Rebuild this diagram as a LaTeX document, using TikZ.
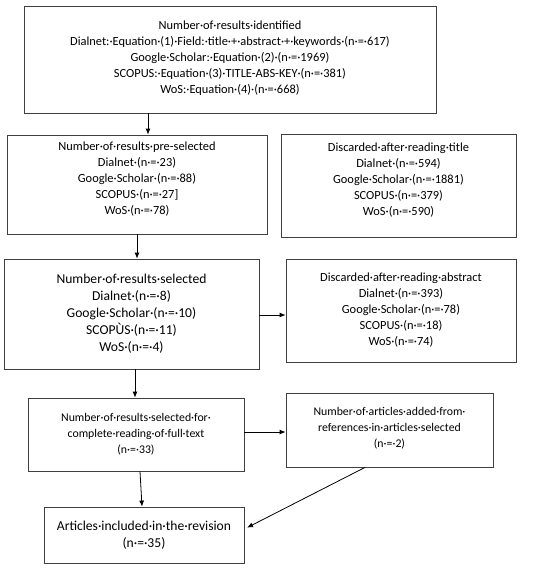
\documentclass[tikz,border=0pt]{standalone}
\usepackage{fontspec}
\setmainfont{Carlito}
\usetikzlibrary{arrows.meta}
\newcommand{\liftby}[1]{\rule[-#1pt]{0pt}{#1pt}}
\tikzset{
  box/.style={draw=black!75, line width=0.8pt, inner sep=0pt, align=center, anchor=center,
    font=\fontsize{12.4}{16}\selectfont},
  midbox/.style={box, font=\fontsize{11.8}{16}\selectfont},
  bigbox/.style={box, font=\fontsize{13.6}{17}\selectfont},
  arr/.style={draw=black, line width=0.8pt, -{Latex[length=6pt,width=5pt]}}
}
\begin{document}
\begin{tikzpicture}[x=1pt,y=-1pt]
\useasboundingbox (0,0) rectangle (550,568);
\node[box, minimum width=412pt, minimum height=107pt] (ident) at (230,59.5)
  {Number·of·results·identified\\Dialnet:·Equation·(1)·Field:·title·+·abstract·+·keywords·(n·=·617)\\Google·Scholar:·Equation·(2)·(n·=·1969)\\SCOPUS:·Equation·(3)·TITLE-ABS-KEY·(n·=·381)\\WoS:·Equation·(4)·(n·=·668)\liftby{4}};
\node[box, minimum width=260pt, minimum height=99pt] (pre) at (137,184.5)
  {Number·of·results·pre-selected\\Dialnet·(n·=·23)\\Google·Scholar·(n·=·88)\\SCOPUS·(n·=·27]\\WoS·(n·=·78)\liftby{12}};
\node[box, minimum width=235pt, minimum height=103pt] (dtitle) at (398.5,185.5)
  {Discarded·after·reading·title\\Dialnet·(n·=·594)\\Google·Scholar·(n·=·1881)\\SCOPUS·(n·=·379)\\WoS·(n·=·590)\liftby{12}};
\node[bigbox, minimum width=255pt, minimum height=110pt] (sel) at (131.5,314)
  {Number·of·results·selected\\Dialnet·(n·=·8)\\Google·Scholar·(n·=·10)\\SCOPÙS·(n·=·11)\\WoS·(n·=·4)};
\node[box, minimum width=230pt, minimum height=103pt] (dabs) at (401,310.5)
  {Discarded·after·reading·abstract\\Dialnet·(n·=·393)\\Google·Scholar·(n·=·78)\\SCOPUS·(n·=·18)\\WoS·(n·=·74)};
\node[midbox, minimum width=216pt, minimum height=73pt] (full) at (136,434.5)
  {Number·of·results·selected·for·\\complete·reading·of·full·text\\(n·=·33)};
\node[midbox, minimum width=207pt, minimum height=74pt] (added) at (389.5,430)
  {Number·of·articles·added·from·\\references·in·articles·selected\\(n·=·2)\liftby{5}};
\node[bigbox, minimum width=200pt, minimum height=56pt] (incl) at (144,535)
  {Articles·included·in·the·revision\\(n·=·35)};
\coordinate (x148) at (148,0);
\coordinate (x137) at (137,0);
\coordinate (x135) at (135,0);
\coordinate (x140) at (140,0);
\coordinate (x142) at (142,0);
\coordinate (x365) at (365,0);
\coordinate (y315) at (0,315);
\coordinate (y432) at (0,432);
\coordinate (y529) at (0,529);
\draw[arr] (ident.south -| x148) -- (pre.north -| x148);
\draw[arr] (pre.south -| x137) -- (sel.north -| x137);
\draw[arr] (sel.east |- y315) -- (dabs.west |- y315);
\draw[arr] (sel.south -| x135) -- (full.north -| x135);
\draw[arr] (full.east |- y432) -- (added.west |- y432);
\draw[arr] (full.south -| x140) -- (incl.north -| x142);
\draw[arr, shorten >=3pt] (added.south -| x365) -- (incl.east |- y529);
\end{tikzpicture}
\end{document}
